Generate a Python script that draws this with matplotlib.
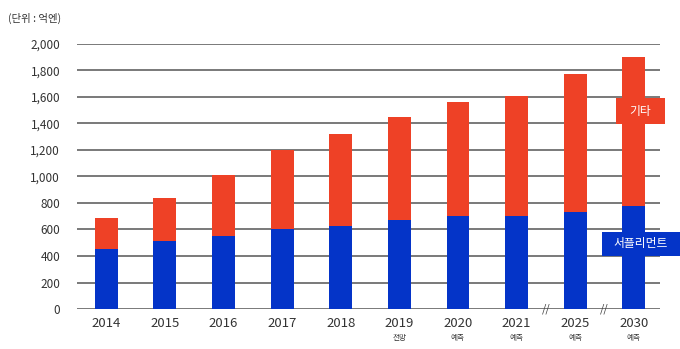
import numpy as np
import matplotlib.pyplot as plt
from matplotlib.patches import Rectangle

plt.rcParams['font.family'] = ['Noto Sans CJK KR', 'DejaVu Sans']

# data
years = ['2014', '2015', '2016', '2017', '2018', '2019', '2020', '2021', '2025', '2030']
sub_labels = ['', '', '', '', '', '전망', '예측', '예측', '예측', '예측']
supplement = [450, 510, 550, 600, 625, 670, 700, 700, 735, 780]
total = [690, 840, 1010, 1200, 1320, 1450, 1560, 1610, 1770, 1900]
other = [t - s for t, s in zip(total, supplement)]
yticks = [0, 200, 400, 600, 800, 1000, 1200, 1400, 1600, 1800, 2000]

blue = '#0434C8'
red = '#EE4126'
grid = '#6e6e6e'

fig = plt.figure(figsize=(6.8, 3.49), dpi=100)
ax = fig.add_axes([0.113, 0.1146, 0.858, 0.7594])

x = np.arange(len(years))
ax.bar(x, supplement, width=0.39, color=blue, zorder=3)
ax.bar(x, other, width=0.39, bottom=supplement, color=red, zorder=3)

ax.set_ylim(0, 2000)
ax.set_xlim(-0.5, 9.45)
for v in yticks:
    ax.axhline(v, color=grid, lw=1.3, zorder=1)

ax.set_yticks(yticks)
ax.set_yticklabels([f'{v:,}' for v in yticks], fontsize=8.5, color='#333333')
ax.tick_params(axis='y', length=0, pad=12)
ax.set_xticks(x)
ax.set_xticklabels(years, fontsize=9.5, color='#333333')
ax.tick_params(axis='x', length=0, pad=6)
for s in ax.spines.values():
    s.set_visible(False)

# small labels under years
for i, lab in enumerate(sub_labels):
    if lab:
        ax.text(i, -0.095, lab, transform=ax.get_xaxis_transform(),
                ha='center', va='top', fontsize=5.5, color='#333333')

# axis break marks
for bx in [7.5, 8.5]:
    ax.text(bx, 0, '//', ha='center', va='center', fontsize=8,
            color='#444444', zorder=4, style='italic')

# legend boxes (axes fraction coords)
boxes = [('기타', red, 0.924, 0.698, 0.084, 0.098),
         ('서플리먼트', blue, 0.900, 0.200, 0.134, 0.091)]
for lab, c, bx, by, bw, bh in boxes:
    ax.add_patch(Rectangle((bx, by), bw, bh, transform=ax.transAxes, fc=c, ec='none',
                           zorder=5, clip_on=False))
    ax.text(bx + bw / 2, by + bh / 2, lab, transform=ax.transAxes, ha='center', va='center',
            fontsize=8.5, color='white', zorder=6)

fig.text(0.012, 0.948, '(단위 : 억엔)', fontsize=7.5, color='#333333', va='center')

fig.savefig('out.png', dpi=100, facecolor='white')
